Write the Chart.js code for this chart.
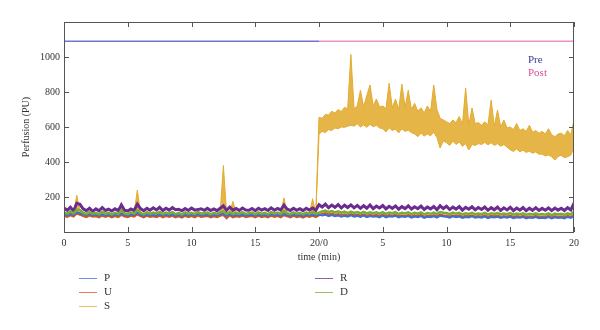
<!DOCTYPE html>
<html>
<head>
<meta charset="utf-8">
<script src="https://cdn.jsdelivr.net/npm/chart.js@4"></script>
<style>
  html, body { margin: 0; padding: 0; background: #fff; }
  #wrap { width: 600px; height: 330px; }
</style>
</head>
<body>
<div id="wrap"><canvas id="perfChart" width="600" height="330"></canvas></div>
<script>
// time axis: 20 min pre + 20 min post, plotted as 0..40 (one sample every 0.25 min)
const minutes = Array.from({ length: 161 }, (_, i) => i * 0.25);
const xTickLabels = ['0', '5', '10', '15', '20/0', '5', '10', '15', '20'];
const yTicks = [200, 400, 600, 800, 1000];
const preLevel = 1090;

// readings (PU), 10 samples per row = 2.5 min
const seriesP = [
  100, 95, 104, 97, 112, 108, 99, 94, 102, 96,
  98, 93, 101, 95, 99, 92, 98, 94, 106, 97,
  93, 100, 96, 110, 98, 92, 101, 95, 97, 94,
  101, 93, 98, 95, 100, 92, 97, 91, 99, 94,
  98, 93, 102, 95, 96, 99, 92, 97, 94, 101,
  104, 90, 102, 93, 97, 95, 100, 93, 96, 98,
  93, 100, 94, 97, 92, 101, 95, 98, 93, 104,
  96, 92, 99, 94, 97, 91, 98, 95, 100, 94,
  100, 95, 99, 91, 97, 90, 94, 88, 93, 87,
  95, 88, 92, 86, 94, 85, 91, 87, 90, 84,
  93, 84, 90, 87, 92, 83, 89, 86, 91, 82,
  88, 85, 91, 81, 87, 84, 90, 82, 93, 89,
  87, 82, 90, 84, 88, 80, 86, 83, 89, 81,
  85, 82, 88, 79, 86, 83, 87, 80, 85, 82,
  87, 79, 84, 81, 86, 78, 83, 80, 85, 79,
  82, 79, 85, 77, 84, 80, 83, 78, 86, 81,
  90
];
const seriesU = [
  92, 86, 95, 88, 105, 100, 91, 85, 94, 87,
  90, 84, 93, 86, 92, 83, 91, 85, 98, 88,
  85, 92, 87, 100, 91, 83, 93, 86, 90, 85,
  93, 84, 91, 86, 92, 83, 90, 82, 92, 85,
  91, 84, 94, 86, 89, 92, 83, 90, 85, 93,
  97, 78, 95, 84, 90, 86, 93, 84, 89, 91,
  84, 92, 85, 90, 83, 93, 86, 91, 84, 96,
  89, 83, 92, 85, 90, 82, 91, 86, 93, 85,
  95, 104, 108, 100, 106, 99, 103, 97, 101, 95,
  102, 96, 100, 94, 101, 93, 99, 95, 98, 92,
  99, 92, 97, 94, 98, 90, 96, 93, 97, 89,
  95, 92, 98, 88, 94, 91, 97, 89, 100, 96,
  94, 89, 96, 91, 95, 87, 93, 90, 96, 88,
  92, 89, 95, 86, 93, 90, 94, 87, 92, 89,
  94, 86, 91, 88, 93, 85, 90, 87, 92, 86,
  89, 86, 92, 84, 91, 87, 90, 85, 93, 88,
  95
];
// S is shown as the band between its upper and lower trace
const sUpper = [
  112, 106, 118, 108, 210, 120, 110, 104, 113, 107,
  109, 103, 115, 106, 111, 102, 110, 105, 170, 108,
  104, 112, 107, 240, 110, 103, 113, 106, 111, 108,
  115, 105, 111, 107, 113, 104, 109, 102, 112, 106,
  110, 104, 114, 107, 108, 111, 103, 109, 105, 112,
  380, 106, 115, 175, 110, 107, 113, 105, 108, 111,
  104, 112, 106, 110, 103, 113, 107, 111, 105, 195,
  108, 104, 112, 106, 109, 103, 111, 107, 190, 106,
  655, 650, 672, 668, 690, 680, 700, 688, 712, 705,
  1015, 705, 720, 810, 715, 780, 840, 720, 760, 715,
  720, 705, 850, 710, 760, 700, 845, 712, 810, 700,
  735, 690, 710, 680, 720, 690, 840, 700, 650, 640,
  630, 620, 640, 625, 660, 615, 823, 610, 709, 620,
  625, 610, 630, 612, 754, 605, 697, 600, 640, 595,
  600, 585, 620, 580, 590, 575, 610, 570, 580, 565,
  575, 560, 590, 555, 545, 560, 565, 550, 580, 555,
  640
];
const sLower = [
  100, 96, 104, 98, 102, 95, 101, 97, 103, 99,
  98, 95, 102, 97, 100, 94, 99, 96, 101, 97,
  96, 101, 97, 103, 99, 94, 100, 96, 101, 98,
  102, 96, 99, 97, 101, 94, 98, 93, 100, 96,
  99, 95, 102, 97, 98, 100, 94, 98, 96, 101,
  103, 95, 101, 96, 99, 97, 100, 95, 98, 100,
  95, 101, 96, 99, 94, 101, 97, 100, 95, 102,
  98, 94, 100, 96, 99, 93, 100, 97, 101, 96,
  560, 575, 568, 585, 580, 595, 590, 600, 598, 605,
  610, 605, 618, 600, 612, 598, 615, 602, 610, 595,
  590, 572, 595, 580, 588, 566, 590, 575, 582, 568,
  560, 545, 565, 548, 560, 550, 570, 540, 480, 520,
  510, 495, 520, 500, 515, 490, 505, 469, 500, 495,
  505, 500, 512, 498, 510, 495, 505, 490, 500, 485,
  470, 460, 475, 458, 468, 455, 462, 450, 458, 445,
  445, 435, 440, 430, 411, 432, 438, 425, 430, 440,
  480
];
const seriesR = [
  137, 124, 142, 120, 164, 158, 132, 122, 136, 118,
  132, 121, 140, 123, 131, 120, 133, 122, 154, 124,
  120, 132, 123, 159, 134, 122, 135, 124, 138, 126,
  141, 123, 136, 125, 139, 127, 130, 121, 134, 123,
  137, 125, 128, 133, 124, 135, 123, 132, 122, 136,
  149, 124, 142, 125, 135, 123, 137, 126, 124, 134,
  122, 136, 125, 133, 123, 138, 124, 135, 126, 154,
  131, 123, 136, 124, 133, 122, 135, 125, 137, 124,
  156, 143, 159, 139, 154, 141, 157, 137, 153, 140,
  155, 138, 152, 135, 150, 136, 154, 133, 148, 137,
  151, 132, 147, 135, 149, 130, 145, 134, 150, 131,
  144, 133, 148, 129, 143, 132, 146, 127, 150, 134,
  147, 128, 142, 131, 145, 125, 141, 130, 144, 127,
  140, 129, 143, 124, 139, 127, 142, 123, 138, 126,
  141, 122, 137, 125, 140, 121, 136, 124, 139, 123,
  135, 124, 138, 122, 137, 125, 136, 123, 139, 126,
  165
];
const seriesD = [
  112, 104, 118, 106, 128, 125, 110, 102, 113, 105,
  109, 101, 115, 104, 111, 100, 110, 103, 122, 106,
  102, 112, 105, 125, 110, 101, 113, 104, 111, 106,
  115, 103, 111, 105, 113, 102, 109, 100, 112, 104,
  110, 102, 114, 105, 108, 111, 101, 109, 103, 112,
  118, 104, 115, 102, 110, 105, 113, 103, 108, 111,
  102, 112, 104, 110, 101, 113, 105, 111, 103, 120,
  108, 102, 112, 104, 109, 101, 111, 105, 113, 104,
  110, 118, 122, 114, 120, 112, 118, 110, 116, 108,
  117, 109, 114, 107, 115, 106, 113, 108, 112, 105,
  114, 104, 111, 107, 113, 103, 110, 106, 112, 102,
  109, 105, 112, 101, 108, 104, 111, 102, 114, 110,
  108, 102, 111, 104, 109, 100, 107, 103, 110, 101,
  106, 102, 109, 99, 107, 103, 108, 100, 106, 102,
  108, 99, 105, 101, 107, 98, 104, 100, 106, 99,
  103, 99, 106, 97, 105, 100, 104, 98, 107, 101,
  115
];

const seriesNames = ['P', 'U', 'S', 'R', 'D'];
const seriesColors = ['#3d6fd6', '#d9531e', '#e3ab2f', '#6b2c91', '#7aab32'];

const serif = '"Liberation Serif", "DejaVu Serif", serif';

function trace(label, data, color, width, order, extra) {
    return Object.assign({
        label: label,
        data: data,
        borderColor: color,
        borderWidth: width,
        pointRadius: 0,
        tension: 0,
        order: order
    }, extra || {});
}

// lower order = drawn on top
const datasets = [
    trace('S', sUpper, seriesColors[2], 1, 5, { fill: '+1', backgroundColor: 'rgba(227,171,47,0.88)' }),
    trace('S low', sLower, seriesColors[2], 1, 5),
    trace('P', seriesP, seriesColors[0], 2, 3),
    trace('U', seriesU, seriesColors[1], 2, 4),
    trace('R', seriesR, seriesColors[3], 3, 2),
    trace('D', seriesD, seriesColors[4], 2.5, 1),
    // Pre / Post reference line at the top
    trace('Pre', [{ x: 0, y: preLevel }, { x: 20, y: preLevel }], '#7474c8', 1.5, 0),
    trace('Post', [{ x: 20, y: preLevel }, { x: 40, y: preLevel }], '#e892c8', 1.5, 0)
];

// frame, inward ticks, Pre/Post text and the two-column legend
const decorPlugin = {
    id: 'decor',
    afterDraw(chart) {
        const { ctx, chartArea: a, scales: { x, y } } = chart;
        ctx.save();
        ctx.strokeStyle = '#555';
        ctx.lineWidth = 1;
        ctx.strokeRect(a.left + 0.5, a.top + 0.5, a.right - a.left - 1, a.bottom - a.top);
        ctx.beginPath();
        x.ticks.forEach(t => {
            const px = Math.round(x.getPixelForValue(t.value)) + 0.5;
            ctx.moveTo(px, a.bottom); ctx.lineTo(px, a.bottom - 5);
            ctx.moveTo(px, a.top); ctx.lineTo(px, a.top + 5);
        });
        y.ticks.forEach(t => {
            const py = Math.round(y.getPixelForValue(t.value)) + 0.5;
            ctx.moveTo(a.left, py); ctx.lineTo(a.left + 5, py);
            ctx.moveTo(a.right, py); ctx.lineTo(a.right - 5, py);
        });
        ctx.stroke();

        ctx.font = '11px ' + serif;
        ctx.textBaseline = 'middle';
        ctx.textAlign = 'left';
        ctx.fillStyle = '#3a3a96';
        ctx.fillText('Pre', a.right - 46, 60);
        ctx.fillStyle = '#d4509c';
        ctx.fillText('Post', a.right - 46, 73);

        const cols = [a.left + 15, a.left + 251];
        seriesNames.forEach((name, i) => {
            const col = i < 3 ? 0 : 1;
            const row = i < 3 ? i : i - 3;
            const lx = cols[col];
            const ly = 278 + row * 14 + 0.5;
            ctx.strokeStyle = seriesColors[i];
            ctx.globalAlpha = 0.75;
            ctx.beginPath();
            ctx.moveTo(lx, ly); ctx.lineTo(lx + 18, ly);
            ctx.stroke();
            ctx.globalAlpha = 1;
            ctx.fillStyle = '#333';
            ctx.fillText(name, lx + 25, ly);
        });
        ctx.restore();
    }
};

new Chart(document.getElementById('perfChart'), {
    type: 'line',
    data: { labels: minutes, datasets: datasets },
    options: {
        responsive: false,
        animation: false,
        layout: { padding: { top: 22, right: 26, left: 0, bottom: 0 } },
        plugins: { legend: { display: false }, tooltip: { enabled: false } },
        scales: {
            x: {
                type: 'linear',
                min: 0, max: 40,
                grid: { display: false, drawTicks: false },
                border: { display: false },
                ticks: {
                    stepSize: 5,
                    padding: 5,
                    color: '#333',
                    font: { family: serif, size: 10 },
                    maxRotation: 0,
                    callback: (value) => xTickLabels[value / 5]
                },
                title: {
                    display: true, text: 'time (min)', color: '#333',
                    font: { family: serif, size: 10 },
                    padding: { top: 0, bottom: 67 }
                },
                afterFit: (scale) => { scale.height = 98; }
            },
            y: {
                min: 0, max: 1200,
                grid: { display: false, drawTicks: false },
                border: { display: false },
                ticks: {
                    stepSize: 200,
                    padding: 4,
                    color: '#333',
                    font: { family: serif, size: 10 },
                    callback: (value) => yTicks.includes(value) ? value : ''
                },
                title: {
                    display: true, text: 'Perfusion (PU)', color: '#333',
                    font: { family: serif, size: 10 },
                    padding: { top: 20, bottom: 0 }
                },
                afterFit: (scale) => { scale.width = 64; }
            }
        }
    },
    plugins: [decorPlugin]
});
</script>
</body>
</html>
